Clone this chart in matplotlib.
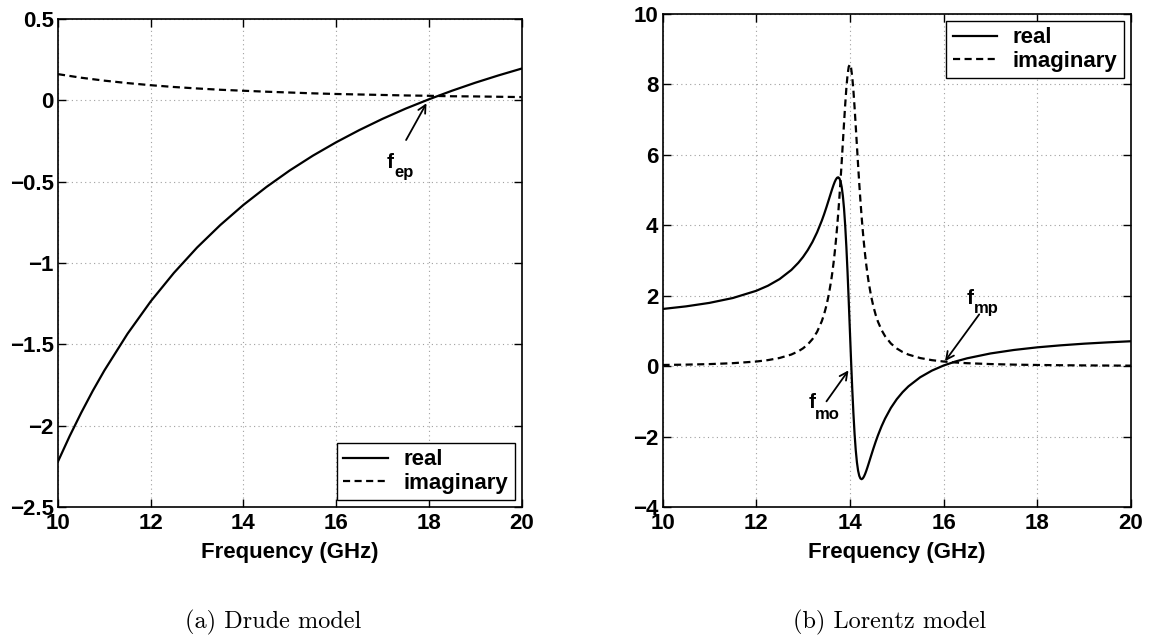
import matplotlib
matplotlib.use("Agg")
import matplotlib.pyplot as plt
from matplotlib.ticker import FixedLocator, FixedFormatter

# ---- Drude model (left panel) ----
drude_freq = [10.0, 10.25, 10.5, 10.75, 11.0, 11.5, 12.0, 12.5, 13.0, 13.5, 14.0,
              14.5, 15.0, 15.5, 16.0, 16.5, 17.0, 17.5, 18.0, 18.5, 19.0, 19.5, 20.0]
drude_real = [-2.220, -2.065, -1.921, -1.786, -1.661, -1.435, -1.236, -1.061, -0.905,
              -0.767, -0.643, -0.532, -0.431, -0.340, -0.258, -0.183, -0.114, -0.051,
              0.006, 0.059, 0.108, 0.153, 0.195]
drude_imag = [0.161, 0.150, 0.139, 0.130, 0.121, 0.106, 0.093, 0.082, 0.073, 0.065,
              0.059, 0.053, 0.048, 0.043, 0.039, 0.036, 0.033, 0.030, 0.028, 0.025,
              0.024, 0.022, 0.020]

# ---- Lorentz model (right panel) ----
lorentz_freq = [10.0, 10.5, 11.0, 11.5, 12.0, 12.25, 12.5, 12.75, 12.9, 13.0, 13.1,
                13.2, 13.3, 13.4, 13.45, 13.5, 13.55, 13.6, 13.625, 13.65, 13.675,
                13.7, 13.725, 13.75, 13.775, 13.8, 13.825, 13.85, 13.875, 13.9, 13.925,
                13.95, 13.975, 14.0, 14.025, 14.05, 14.075, 14.1, 14.125, 14.15, 14.175,
                14.2, 14.225, 14.25, 14.275, 14.3, 14.325, 14.35, 14.375, 14.4, 14.45,
                14.5, 14.55, 14.6, 14.675, 14.75, 14.875, 15.0, 15.125, 15.25, 15.5,
                15.75, 16.0, 16.25, 16.5, 17.0, 17.5, 18.0, 18.5, 19.0, 19.5, 20.0]
lorentz_real = [1.623, 1.697, 1.796, 1.934, 2.139, 2.283, 2.473, 2.731, 2.936, 3.100,
                3.295, 3.525, 3.801, 4.130, 4.316, 4.516, 4.727, 4.940, 5.043, 5.141,
                5.228, 5.299, 5.348, 5.363, 5.335, 5.249, 5.087, 4.832, 4.469, 3.985,
                3.377, 2.657, 1.851, 1.000, 0.154, -0.640, -1.341, -1.927, -2.389,
                -2.732, -2.969, -3.116, -3.191, -3.210, -3.188, -3.135, -3.060, -2.971,
                -2.872, -2.768, -2.555, -2.345, -2.146, -1.961, -1.710, -1.491, -1.185,
                -0.939, -0.739, -0.573, -0.316, -0.127, 0.018, 0.131, 0.222, 0.360,
                0.459, 0.534, 0.591, 0.638, 0.675, 0.707]
lorentz_imag = [0.033, 0.043, 0.058, 0.084, 0.131, 0.171, 0.232, 0.330, 0.422, 0.506,
                0.616, 0.766, 0.975, 1.276, 1.477, 1.726, 2.037, 2.427, 2.659, 2.920,
                3.214, 3.544, 3.913, 4.324, 4.778, 5.273, 5.801, 6.352, 6.906, 7.435,
                7.903, 8.271, 8.502, 8.571, 8.472, 8.213, 7.825, 7.344, 6.809, 6.253,
                5.705, 5.181, 4.694, 4.247, 3.844, 3.482, 3.159, 2.871, 2.615, 2.388,
                2.006, 1.702, 1.457, 1.259, 1.027, 0.852, 0.643, 0.502, 0.401, 0.328,
                0.230, 0.170, 0.131, 0.104, 0.084, 0.059, 0.043, 0.033, 0.026, 0.021,
                0.017, 0.014]

x_ticks = [10, 12, 14, 16, 18, 20]
left_y_ticks = [-2.5, -2, -1.5, -1, -0.5, 0, 0.5]
left_y_labels = ["\u22122.5", "\u22122", "\u22121.5", "\u22121", "\u22120.5", "0", "0.5"]
right_y_ticks = [-4, -2, 0, 2, 4, 6, 8, 10]
right_y_labels = ["\u22124", "\u22122", "0", "2", "4", "6", "8", "10"]

FONT = "Liberation Sans"
FS = 16
W, H = 1149, 638

fig = plt.figure(figsize=(W / 100, H / 100), dpi=100)
ax1 = fig.add_axes([58 / W, 1 - 507 / H, (521.5 - 58) / W, (507 - 19) / H])
ax2 = fig.add_axes([662.5 / W, 1 - 507 / H, (1131 - 662.5) / W, (507 - 14) / H])

DASH = (3.2, 2.0)


def style_axes(ax, yticks, ylabels, ylim):
    ax.set_xlim(10, 20)
    ax.set_ylim(*ylim)
    ax.xaxis.set_major_locator(FixedLocator(x_ticks))
    ax.xaxis.set_major_formatter(FixedFormatter([str(t) for t in x_ticks]))
    ax.yaxis.set_major_locator(FixedLocator(yticks))
    ax.yaxis.set_major_formatter(FixedFormatter(ylabels))
    ax.tick_params(direction="in", length=6, width=1.0, top=True, right=True,
                   labelsize=FS, pad=3)
    ax.tick_params(axis="x", pad=4)
    for lab in ax.get_xticklabels() + ax.get_yticklabels():
        lab.set_fontfamily(FONT)
        lab.set_fontweight("bold")
    ax.grid(True, linestyle=(0, (1, 3)), color="#a0a0a0", linewidth=0.8)
    for sp in ax.spines.values():
        sp.set_linewidth(1.2)
    ax.set_xlabel("Frequency (GHz)", fontfamily=FONT, fontweight="bold",
                  fontsize=FS, labelpad=6)


def add_legend(ax, loc):
    leg = ax.legend(loc=loc, prop={"family": FONT, "weight": "bold", "size": FS},
                    frameon=True, fancybox=False, edgecolor="black", framealpha=1,
                    handlelength=2.0, labelspacing=0.1, borderpad=0.3,
                    borderaxespad=0.3, handletextpad=0.7)
    leg.get_frame().set_linewidth(1.0)


def label_point(ax, tip, tail, f_pos, sub_pos, sub):
    ax.annotate("", xy=tip, xytext=tail,
                arrowprops=dict(arrowstyle="->", color="black", lw=1.3,
                                mutation_scale=14, shrinkA=0, shrinkB=0))
    ax.text(*f_pos, "f", fontfamily=FONT, fontweight="bold", fontsize=FS - 1,
            ha="left", va="baseline")
    ax.text(*sub_pos, sub, fontfamily=FONT, fontweight="bold", fontsize=FS - 4,
            ha="left", va="baseline")


# left panel
ax1.plot(drude_freq, drude_real, color="black", lw=1.6, label="real")
ax1.plot(drude_freq, drude_imag, color="black", lw=1.6, dashes=DASH, label="imaginary")
style_axes(ax1, left_y_ticks, left_y_labels, (-2.5, 0.5))
add_legend(ax1, "lower right")
label_point(ax1, (17.95, -0.018), (17.51, -0.244), (17.09, -0.418), (17.26, -0.47), "ep")

# right panel
ax2.plot(lorentz_freq, lorentz_real, color="black", lw=1.6, label="real")
ax2.plot(lorentz_freq, lorentz_imag, color="black", lw=1.6, dashes=DASH, label="imaginary")
style_axes(ax2, right_y_ticks, right_y_labels, (-4, 10))
add_legend(ax2, "upper right")
label_point(ax2, (13.97, -0.12), (13.50, -1.0), (13.11, -1.19), (13.255, -1.50), "mo")
label_point(ax2, (16.03, 0.14), (16.76, 1.47), (16.49, 1.77), (16.65, 1.52), "mp")

# subfigure captions
fig.text(273 / W, 1 - 622 / H, "(a) Drude model", fontfamily="cmr10", fontsize=17.5,
         ha="center", va="center")
fig.text(890 / W, 1 - 622 / H, "(b) Lorentz model", fontfamily="cmr10", fontsize=17.5,
         ha="center", va="center")

fig.savefig("out.png", dpi=100)
